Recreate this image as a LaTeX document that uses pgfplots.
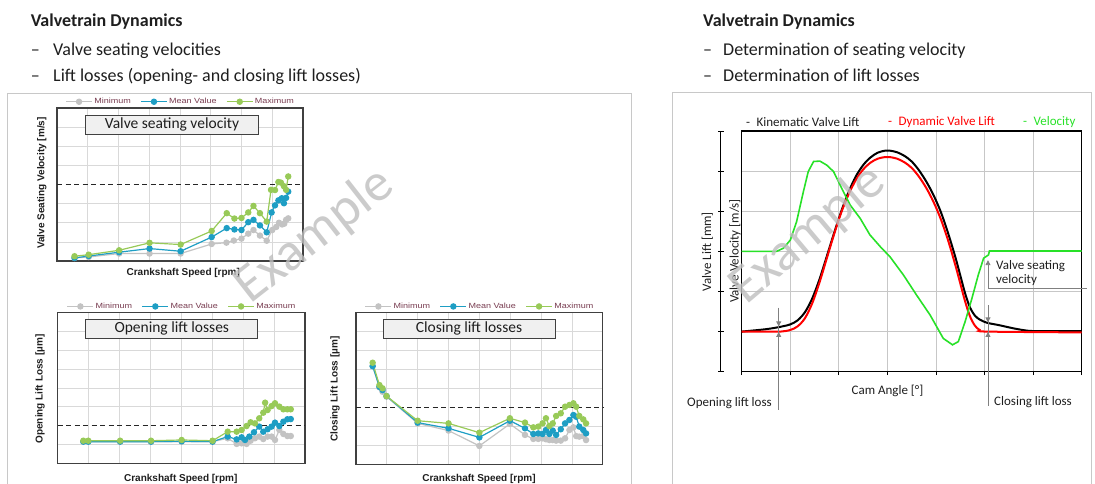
\documentclass[border=0pt]{standalone}
\usepackage{pgfplots}
\pgfplotsset{compat=1.18}
\usetikzlibrary{arrows.meta}
\usepackage{fontspec}
\setmainfont{Carlito}
\newfontfamily\arial{Liberation Sans}
\definecolor{minc}{RGB}{195,195,195}
\definecolor{meanc}{RGB}{30,158,196}
\definecolor{maxc}{RGB}{152,202,88}
\definecolor{gridc}{RGB}{217,217,217}
\definecolor{boxc}{RGB}{64,64,64}
\definecolor{legc}{RGB}{120,60,80}
\definecolor{txt}{RGB}{30,30,30}
\definecolor{vgreen}{RGB}{40,225,40}
\definecolor{wm}{RGB}{190,190,190}
\definecolor{framec}{RGB}{200,200,200}
\definecolor{agrey}{RGB}{128,128,128}
\definecolor{titlefill}{RGB}{240,240,240}

\pgfplotsset{
  panel/.style={
    scale only axis, anchor=north west,
    xmin=0,xmax=8,ymin=0,ymax=8,
    xtick={1,...,7},
    xticklabels={}, yticklabels={},
    major tick length=0pt,
    grid=major, major grid style={draw=gridc, line width=0.7bp},
    axis line style={draw=boxc, line width=1.3bp},
    clip=false,
    legend columns=3,
    legend cell align=left,
    legend style={at={(0.5,1)}, anchor=south, yshift=2bp, draw=none, fill=none, inner sep=0pt,
       font=\arial\fontsize{7.5bp}{8bp}\selectfont, text=legc,
       /tikz/every even column/.append style={column sep=9bp},
       /tikz/every odd column/.append style={column sep=1bp},
       nodes={inner sep=0.6bp}},
    legend image code/.code={\draw[mark repeat=2,mark phase=2,#1] plot coordinates {(0bp,0bp) (13bp,0bp) (26bp,0bp)};},
  },
  sermin/.style={color=minc, line width=1.2bp, mark=*, mark size=2.6bp, mark options={solid}},
  sermean/.style={color=meanc, line width=1.2bp, mark=*, mark size=2.6bp, mark options={solid}},
  sermax/.style={color=maxc, line width=1.2bp, mark=*, mark size=2.6bp, mark options={solid}},
  refline/.style={black!85, line width=1bp, dash pattern=on 5bp off 3.5bp, forget plot},
}

\begin{document}
\begin{tikzpicture}
\begin{scope}[x=1bp,y=-1bp]
\path[use as bounding box] (0,0) rectangle (1095,482);
% frames
\draw[framec, line width=1bp] (7.3,495) -- (7.3,93.3) -- (631.7,93.3) -- (631.7,495);
\draw[framec, line width=1bp] (672.7,495) -- (672.7,92.7) -- (1091,92.7) -- (1091,495);
% slide text
\begin{scope}[every node/.style={anchor=base west, inner sep=0pt, text=txt, font=\fontsize{18bp}{21bp}\selectfont}]
\node[font=\fontsize{18bp}{21bp}\selectfont\bfseries] at (30.6,26.7) {Valvetrain Dynamics};
\node at (30.6,55) {–};
\node at (53,55) {Valve seating velocities};
\node at (30.6,81) {–};
\node at (53,81) {Lift losses (opening- and closing lift losses)};
\node[font=\fontsize{18bp}{21bp}\selectfont\bfseries] at (703,26.7) {Valvetrain Dynamics};
\node at (703,55) {–};
\node at (723,55) {Determination of seating velocity};
\node at (703,81) {–};
\node at (723,81) {Determination of lift losses};
\end{scope}
\end{scope}

% ---------- Panel 1: valve seating velocity
\begin{axis}[panel, at={(57bp,-108bp)}, width=246bp, height=153bp, ytick={1,2,3,5,6,7}]
\addplot[refline] coordinates {(0,4) (8,4)};
\addplot[sermin] coordinates {(0.57,0.16)(1.03,0.21)(2.02,0.39)(3.01,0.39)(4.02,0.39)(5.03,0.89)(5.51,0.96)(5.75,1.07)(6.0,1.17)(6.22,1.43)(6.39,1.62)(6.6,1.33)(6.82,1.06)(7.0,1.62)(7.13,1.78)(7.22,2.0)(7.32,1.91)(7.39,1.95)(7.45,2.15)(7.52,2.23)};
\addlegendentry{\scalebox{1.2}[1]{Minimum}}
\addplot[sermean] coordinates {(0.57,0.16)(1.03,0.26)(2.02,0.46)(3.01,0.65)(4.02,0.51)(5.03,1.25)(5.52,1.72)(5.77,1.65)(6.0,1.62)(6.22,2.03)(6.39,2.15)(6.6,1.86)(6.82,1.5)(6.98,2.54)(7.09,2.91)(7.2,3.17)(7.31,3.28)(7.38,3.02)(7.45,3.3)(7.52,3.63)};
\addlegendentry{\scalebox{1.2}[1]{Mean Value}}
\addplot[sermax] coordinates {(0.57,0.25)(1.03,0.33)(2.02,0.56)(3.01,0.95)(4.02,0.86)(5.03,1.57)(5.52,2.5)(5.77,2.22)(6.0,2.25)(6.22,2.54)(6.39,2.88)(6.6,2.5)(6.82,2.06)(6.96,3.72)(7.09,3.71)(7.2,4.13)(7.28,4.1)(7.38,3.91)(7.45,3.72)(7.52,4.42)};
\addlegendentry{\scalebox{1.2}[1]{Maximum}}
\end{axis}

% ---------- Panel 2: opening lift losses
\begin{axis}[panel, at={(57.7bp,-312.7bp)}, width=247.3bp, height=150.6bp, ytick={1,3,4,5,6,7}]
\addplot[refline] coordinates {(0,2) (8,2)};
\addplot[sermin] coordinates {(0.83,1.15)(0.99,1.15)(2.02,1.15)(3.02,1.15)(4.01,1.15)(5.01,1.15)(5.5,1.33)(5.79,1.03)(5.95,1.06)(6.11,1.03)(6.24,1.2)(6.38,1.33)(6.52,1.42)(6.65,1.29)(6.79,1.42)(6.92,1.42)(7.03,1.24)(7.17,1.77)(7.3,1.56)(7.43,1.45)(7.54,1.45)};
\addlegendentry{\scalebox{1.2}[1]{Minimum}}
\addplot[sermean] coordinates {(0.83,1.15)(0.99,1.15)(2.02,1.15)(3.02,1.15)(4.01,1.17)(5.01,1.15)(5.5,1.42)(5.79,1.27)(5.95,1.38)(6.06,1.24)(6.2,1.42)(6.35,1.65)(6.52,1.95)(6.65,1.68)(6.79,1.81)(6.92,1.95)(7.03,2.16)(7.17,1.98)(7.3,2.21)(7.43,2.34)(7.54,2.35)};
\addlegendentry{\scalebox{1.2}[1]{Mean Value}}
\addplot[sermax] coordinates {(0.83,1.2)(0.99,1.2)(2.02,1.2)(3.02,1.2)(4.01,1.24)(5.01,1.2)(5.5,1.68)(5.79,1.68)(5.95,1.77)(6.11,1.98)(6.24,2.18)(6.38,2.12)(6.52,2.39)(6.65,2.69)(6.71,3.22)(6.79,2.83)(6.92,3.04)(7.03,3.19)(7.17,3.01)(7.3,2.87)(7.43,2.87)(7.54,2.87)};
\addlegendentry{\scalebox{1.2}[1]{Maximum}}
\end{axis}

% ---------- Panel 3: closing lift losses
\begin{axis}[panel, at={(356bp,-312.7bp)}, width=246.7bp, height=151.6bp, ytick={1,2,4,5,6,7}]
\addplot[refline] coordinates {(0,3) (8,3)};
\addplot[sermin] coordinates {(0.54,5.18)(0.76,4.06)(0.86,3.83)(0.99,3.57)(2.0,2.16)(3.0,1.78)(4.0,0.97)(4.99,2.13)(5.48,1.55)(5.75,1.34)(5.91,1.34)(6.05,1.37)(6.16,1.32)(6.27,1.28)(6.38,1.28)(6.49,1.25)(6.64,1.25)(6.78,1.37)(6.92,1.81)(7.05,1.95)(7.14,1.49)(7.24,1.46)(7.37,1.49)(7.46,1.28)};
\addlegendentry{\scalebox{1.2}[1]{Minimum}}
\addplot[sermean] coordinates {(0.54,5.18)(0.76,4.09)(0.86,3.92)(0.99,3.6)(2.0,2.2)(3.0,1.9)(4.0,1.42)(4.99,2.3)(5.48,1.9)(5.75,1.6)(5.91,1.63)(6.05,1.6)(6.16,1.81)(6.27,1.6)(6.38,1.78)(6.49,1.55)(6.64,1.85)(6.78,2.16)(6.92,2.34)(7.05,2.6)(7.14,2.51)(7.24,1.99)(7.37,1.81)(7.46,1.63)};
\addlegendentry{\scalebox{1.2}[1]{Mean Value}}
\addplot[sermax] coordinates {(0.54,5.36)(0.76,4.18)(0.86,4.01)(0.99,3.6)(2.0,2.3)(3.0,2.16)(4.0,1.67)(4.99,2.43)(5.48,2.2)(5.75,1.95)(5.91,1.99)(6.05,2.16)(6.16,2.43)(6.27,2.02)(6.38,2.16)(6.49,2.55)(6.64,2.69)(6.78,3.04)(6.92,3.13)(7.05,3.22)(7.14,3.04)(7.24,2.55)(7.37,2.37)(7.46,2.16)};
\addlegendentry{\scalebox{1.2}[1]{Maximum}}
\end{axis}

% ---------- Right chart
\begin{axis}[scale only axis, anchor=north west, at={(741.7bp,-131bp)},
  width=340bp, height=240.7bp, xmin=0,xmax=7,ymin=0,ymax=6,
  xtick={0,...,7}, ytick={1,...,5}, xticklabels={}, yticklabels={},
  grid=major, major grid style={draw=black!22, line width=0.9bp},
  axis line style={black, line width=1.4bp},
  tick align=outside, xtick pos=left, major tick length=3.5bp,
  xtick style={black, line width=0.9bp}, ytick style={draw=none},
  clip=false]
\addplot[black, line width=2bp, smooth] coordinates {(0,1.0)(0.5,1.06)(0.8,1.12)(1.0,1.18)(1.15,1.28)(1.3,1.48)(1.45,1.82)(1.6,2.3)(1.75,2.87)(1.9,3.45)(2.05,4.0)(2.2,4.48)(2.35,4.87)(2.5,5.15)(2.65,5.34)(2.8,5.46)(2.95,5.51)(3.05,5.51)(3.2,5.47)(3.35,5.38)(3.5,5.24)(3.65,5.02)(3.8,4.74)(3.95,4.4)(4.1,3.98)(4.25,3.45)(4.4,2.85)(4.5,2.4)(4.6,1.95)(4.7,1.6)(4.8,1.4)(4.9,1.3)(5.05,1.22)(5.3,1.16)(5.6,1.08)(5.9,1.02)(6.2,1.01)(7.0,1.01)};
\addplot[red, line width=2bp, smooth] coordinates {(0,1.0)(0.5,1.0)(0.8,1.0)(1.0,1.04)(1.15,1.13)(1.3,1.33)(1.45,1.7)(1.6,2.22)(1.75,2.82)(1.9,3.42)(2.05,3.97)(2.2,4.42)(2.35,4.78)(2.5,5.04)(2.65,5.21)(2.8,5.31)(2.95,5.35)(3.05,5.35)(3.2,5.31)(3.35,5.22)(3.5,5.08)(3.65,4.86)(3.8,4.58)(3.95,4.23)(4.1,3.8)(4.25,3.27)(4.4,2.65)(4.5,2.2)(4.6,1.75)(4.7,1.38)(4.8,1.15)(4.9,1.04)(5.05,1.0)(7.0,0.98)};
\addplot[vgreen, line width=1.6bp] coordinates {(0,3.0)(0.72,3.0)(0.86,3.08)(1.0,3.28)(1.13,3.74)(1.27,4.49)(1.37,4.99)(1.48,5.24)(1.61,5.25)(1.75,5.15)(1.89,4.99)(2.06,4.57)(2.23,4.16)(2.44,3.82)(2.64,3.41)(2.88,3.08)(3.05,2.87)(3.33,2.41)(3.6,1.91)(3.88,1.41)(4.15,0.83)(4.34,0.67)(4.46,0.75)(4.6,1.25)(4.74,1.83)(4.87,2.41)(4.98,2.83)(5.08,2.91)(5.1,3.01)(7.0,3.01)};
% annotations
\draw[agrey, line width=0.9bp] (axis cs:0.762,1.6) -- (axis cs:0.762,-0.96);
\draw[agrey, line width=0.9bp, -{Triangle[length=5bp,width=5bp]}] (axis cs:0.762,1.45) -- (axis cs:0.762,1.13);
\draw[agrey, line width=0.9bp, -{Triangle[length=5bp,width=5bp]}] (axis cs:0.762,0.6) -- (axis cs:0.762,0.99);
\draw[agrey, line width=0.9bp] (axis cs:5.07,1.66) -- (axis cs:5.07,-0.86);
\draw[agrey, line width=0.9bp, -{Triangle[length=5bp,width=5bp]}] (axis cs:5.07,1.55) -- (axis cs:5.07,1.23);
\draw[agrey, line width=0.9bp, -{Triangle[length=5bp,width=5bp]}] (axis cs:5.07,0.6) -- (axis cs:5.07,0.99);
\draw[agrey, line width=0.9bp] (axis cs:7.1,2.08) -- (axis cs:5.07,2.08);
\draw[agrey, line width=0.9bp, -{Triangle[length=5bp,width=5bp]}] (axis cs:5.07,2.08) -- (axis cs:5.07,2.78);
\end{axis}

\begin{scope}[x=1bp,y=-1bp]
% panel title boxes
\begin{scope}[every node/.style={draw=boxc, fill=titlefill, line width=1bp, minimum width=172bp, minimum height=19bp, inner sep=0pt, text=txt, font=\fontsize{15.5bp}{17bp}\selectfont}]
\node at (172,124.7) {Valve seating velocity};
\node at (171.8,328.8) {Opening lift losses};
\node at (469,328.8) {Closing lift losses};
\end{scope}
% panel axis labels
\begin{scope}[every node/.style={inner sep=0pt, text=txt, font=\arial\bfseries\fontsize{10bp}{11bp}\selectfont}]
\node[rotate=90] at (41.7,183) {Valve Seating Velocity [m/s]};
\node at (183.3,272.7) {Crankshaft Speed [rpm]};
\node[rotate=90] at (40,389) {Opening Lift Loss [µm]};
\node at (180.8,479.3) {Crankshaft Speed [rpm]};
\node[rotate=90] at (335,389) {Closing Lift Loss [µm]};
\node at (479,479.3) {Crankshaft Speed [rpm]};
\end{scope}
% right chart: extra lift axis
\draw[black, line width=1.3bp] (720.7,131) -- (720.7,371.7);
\foreach \yy in {131,171,211.2,251.3,291.5,331.6,371.7} {\draw[black, line width=1bp] (718,\yy) -- (723.5,\yy);}
% right chart texts
\begin{scope}[every node/.style={inner sep=0pt, text=txt, font=\fontsize{13bp}{14bp}\selectfont}]
\node[rotate=90] at (707.3,251.7) {Valve Lift [mm]};
\node[rotate=90] at (735,251) {Valve Velocity [m/s]};
\node[anchor=west] at (746,122.3) {-\hspace{0.5em}Kinematic Valve Lift};
\node[anchor=west, text=red] at (888,122.3) {-\hspace{0.5em}Dynamic Valve Lift};
\node[anchor=west, text=vgreen] at (1023,122.3) {-\hspace{0.5em}Velocity};
\node at (887.5,391) {Cam Angle [°]};
\node at (729.5,403) {Opening lift loss};
\node at (1033,402) {Closing lift loss};
\node[anchor=north west, align=left, font=\fontsize{13bp}{14bp}\selectfont] at (996,260) {Valve seating\\velocity};
\end{scope}
% watermarks
\node[text=wm, opacity=0.8, rotate=38, inner sep=0pt, font=\fontsize{54bp}{60bp}\selectfont] at (315,236) {Example};
\node[text=wm, opacity=0.8, rotate=40, inner sep=0pt, font=\fontsize{54bp}{60bp}\selectfont] at (808,235) {Example};
\end{scope}
\end{tikzpicture}
\end{document}
